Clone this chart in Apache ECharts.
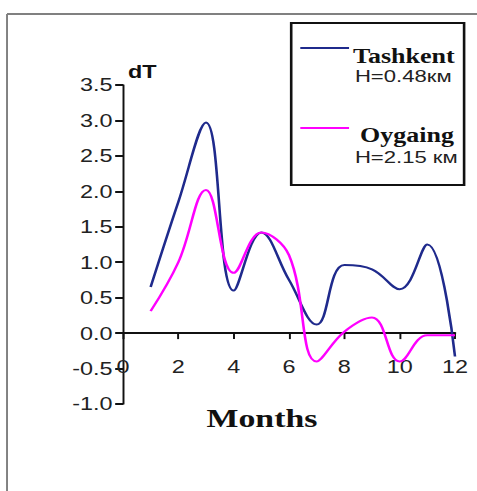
<!DOCTYPE html>
<html>
<head>
<meta charset="utf-8">
<script src="https://cdn.jsdelivr.net/npm/echarts@6/dist/echarts.min.js"></script>
<style>
  html, body { margin: 0; padding: 0; background: #fff; overflow: hidden; }
  /* the original picture is stretched sideways, so the chart is drawn narrow and widened */
  #chart { width: 367px; height: 491px; transform: scaleX(1.3); transform-origin: 0 0; }
</style>
</head>
<body>
<div id="chart"></div>
<script>
const months = [1, 2, 3, 4, 5, 6, 7, 8, 9, 10, 11, 12];
const tashkent = [0.65, 1.85, 2.97, 0.6, 1.42, 0.75, 0.12, 0.96, 0.9, 0.62, 1.25, -0.33];
const oygaing = [0.31, 1.0, 2.02, 0.85, 1.42, 1.1, -0.4, 0.02, 0.22, -0.4, -0.03, -0.03];
const seriesNames = ['Tashkent', 'Oygaing'];
const heights = ['H=0.48км', 'H=2.15 км'];
const colors = ['#1f2a8c', '#ff00ff'];

const sans = 'Liberation Sans, Arial, sans-serif';
const serif = 'Liberation Serif, Times New Roman, serif';

const chart = echarts.init(document.getElementById('chart'), null, { renderer: 'svg' });

const toPairs = vals => months.map((m, i) => [m, vals[i]]);

const option = {
  animation: false,
  grid: { left: 94.6, right: 17, top: 85, bottom: 87 },
  xAxis: {
    type: 'value',
    min: 0,
    max: 12,
    interval: 2,
    splitLine: { show: false },
    axisLine: { onZero: true, lineStyle: { color: '#111', width: 2 } },
    axisTick: { show: true, length: 6, lineStyle: { color: '#111', width: 1.5 } },
    // labels sit just under the zero line, not at the bottom of the grid
    axisLabel: { margin: -46, fontSize: 18, color: '#222', fontFamily: sans },
  },
  yAxis: {
    type: 'value',
    min: -1,
    max: 3.5,
    interval: 0.5,
    splitLine: { show: false },
    axisLine: { show: true, lineStyle: { color: '#111', width: 1.5 } },
    axisTick: { show: true, length: 6, lineStyle: { color: '#111', width: 2 } },
    axisLabel: {
      margin: 8,
      fontSize: 18,
      color: '#222',
      fontFamily: sans,
      formatter: v => v.toFixed(1),
    },
  },
  series: [
    {
      name: seriesNames[0],
      type: 'line',
      smooth: 0.4,
      showSymbol: false,
      lineStyle: { color: colors[0], width: 2 },
      data: toPairs(tashkent),
    },
    {
      name: seriesNames[1],
      type: 'line',
      smooth: 0.4,
      showSymbol: false,
      lineStyle: { color: colors[1], width: 2 },
      data: toPairs(oygaing),
    },
  ],
  graphic: [
    // picture frame, top and left edges
    { type: 'line', shape: { x1: 5.4, y1: 14, x2: 5.4, y2: 491 }, style: { stroke: '#808080', lineWidth: 1.5 } },
    { type: 'line', shape: { x1: 5.4, y1: 14, x2: 367, y2: 14 }, style: { stroke: '#808080', lineWidth: 2 } },
    // legend box
    { type: 'rect', shape: { x: 224, y: 23, width: 133, height: 162 }, style: { fill: '#fff', stroke: '#111', lineWidth: 2 } },
    { type: 'line', shape: { x1: 231, y1: 48, x2: 268.5, y2: 48 }, style: { stroke: colors[0], lineWidth: 2 } },
    { type: 'line', shape: { x1: 231, y1: 128, x2: 268.5, y2: 128 }, style: { stroke: colors[1], lineWidth: 2 } },
    {
      type: 'text', x: 271.5, y: 56,
      style: { text: seriesNames[0], font: 'bold 20px ' + serif, fill: '#111', textVerticalAlign: 'middle' },
    },
    {
      type: 'text', x: 273, y: 76,
      style: { text: heights[0], font: '17px ' + sans, fill: '#222', textVerticalAlign: 'middle' },
    },
    {
      type: 'text', x: 277, y: 135,
      style: { text: seriesNames[1], font: 'bold 20px ' + serif, fill: '#111', textVerticalAlign: 'middle' },
    },
    {
      type: 'text', x: 273, y: 157,
      style: { text: heights[1], font: '17px ' + sans, fill: '#222', textVerticalAlign: 'middle' },
    },
    // axis titles
    {
      type: 'text', x: 98.5, y: 72,
      style: { text: 'dT', font: 'bold 18px ' + sans, fill: '#111', textVerticalAlign: 'middle' },
    },
    {
      type: 'text', x: 201.5, y: 418,
      style: { text: 'Months', font: 'bold 26px ' + serif, fill: '#111', textAlign: 'center', textVerticalAlign: 'middle' },
    },
  ],
};

chart.setOption(option);
</script>
</body>
</html>
